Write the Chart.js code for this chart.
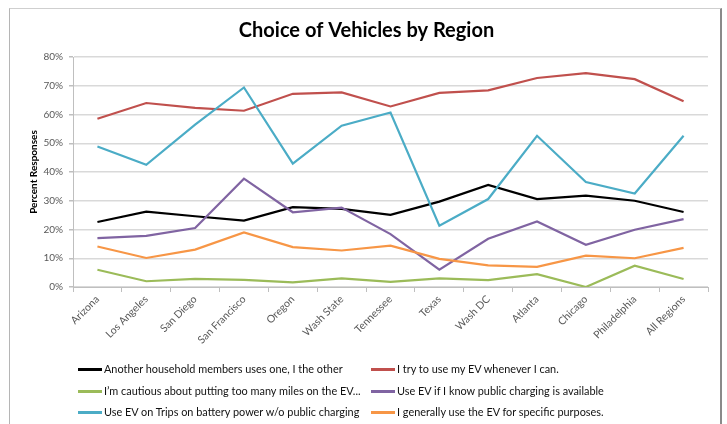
<!DOCTYPE html>
<html>
<head>
<meta charset="utf-8">
<script src="https://cdn.jsdelivr.net/npm/chart.js@4/dist/chart.umd.min.js"></script>
<style>
  html, body { margin: 0; padding: 0; background: #ffffff; }
  body { width: 727px; height: 424px; position: relative; overflow: hidden; font-family: Lato, "Open Sans", sans-serif; }
  #chart { position: absolute; left: 0; top: 0; }
  #frame {
    position: absolute; left: 9px; top: 8px; width: 710px; height: 440px;
    border-top: 1px solid #cfcfcf; border-left: 1px solid #b5b5b5; border-right: 2px solid #8a8a8a;
    pointer-events: none;
  }
  .key { position: absolute; height: 14px; font-size: 10.9px; line-height: 14px; color: #111; white-space: nowrap; }
  .key i { position: absolute; left: 0; top: 6px; width: 24px; height: 2.5px; }
  .key span { position: absolute; left: 26px; top: 0; }
</style>
</head>
<body>
<canvas id="chart" width="727" height="424"></canvas>
<div id="legend"></div>
<div id="frame"></div>
<script>
// Survey regions shown along the category axis
const regions = ['Arizona', 'Los Angeles', 'San Diego', 'San Francisco', 'Oregon', 'Wash State',
  'Tennessee', 'Texas', 'Wash DC', 'Atlanta', 'Chicago', 'Philadelphia', 'All Regions'];

// Share of responses per region, in percent
const householdShare = [22.6, 26.2, 24.6, 23.1, 27.8, 27.2, 25.1, 29.7, 35.5, 30.6, 31.8, 30.0, 26.1];
const wheneverCan    = [58.5, 64.0, 62.3, 61.3, 67.2, 67.7, 62.8, 67.5, 68.4, 72.7, 74.4, 72.3, 64.6];
const cautiousMiles  = [6.0, 2.0, 2.8, 2.5, 1.6, 3.0, 1.8, 3.0, 2.4, 4.5, 0.0, 7.4, 2.8];
const publicCharging = [17.0, 17.8, 20.5, 37.7, 26.0, 27.6, 18.4, 6.0, 16.8, 22.8, 14.7, 19.9, 23.6];
const batteryTrips   = [48.9, 42.5, 56.5, 69.4, 42.9, 56.1, 60.7, 21.3, 30.6, 52.6, 36.5, 32.5, 52.6];
const specificUse    = [14.1, 10.1, 13.0, 19.0, 13.9, 12.7, 14.4, 9.8, 7.5, 7.0, 10.9, 10.0, 13.6];

const seriesNames = [
  'Another household members uses one, I the other',
  'I try to use my EV whenever I can.',
  'I\u2019m cautious about putting too many miles on the EV...',
  'Use EV if I know public charging is available',
  'Use EV on Trips on battery power w/o public charging',
  'I generally use the EV for specific purposes.'
];
const seriesValues = [householdShare, wheneverCan, cautiousMiles, publicCharging, batteryTrips, specificUse];
const seriesColors = ['#000000', '#C0504D', '#9BBB59', '#8064A2', '#4BACC6', '#F79646'];

const yTicks = [0, 10, 20, 30, 40, 50, 60, 70, 80];

const FONT = 'Lato, "Open Sans", sans-serif';

const datasets = seriesValues.map((vals, i) => ({
  label: seriesNames[i],
  data: vals,
  borderColor: seriesColors[i],
  backgroundColor: seriesColors[i],
  borderWidth: 2.2,
  pointRadius: 0,
  tension: 0,
  fill: false,
  order: seriesValues.length - i
}));

new Chart(document.getElementById('chart'), {
  type: 'line',
  data: { labels: regions, datasets },
  options: {
    responsive: false,
    animation: false,
    layout: { padding: { left: 25, right: 19, top: 13, bottom: 77 } },
    plugins: {
      legend: { display: false },
      tooltip: { enabled: false },
      title: {
        display: true,
        text: 'Choice of Vehicles by Region',
        color: '#000000',
        font: { family: FONT, size: 20, weight: 'bold' },
        padding: { top: 6, bottom: 14 }
      }
    },
    scales: {
      x: {
        type: 'category',
        offset: true,
        grid: { display: true, offset: true, drawOnChartArea: false, drawTicks: true, tickLength: 5, color: '#bfbfbf' },
        border: { display: true, color: '#bfbfbf', width: 1 },
        ticks: {
          autoSkip: false, minRotation: 45, maxRotation: 45, padding: 1,
          color: '#595959', font: { family: FONT, size: 10.5 }
        },
        afterFit: (scale) => { scale.height = 60; }
      },
      y: {
        min: yTicks[0], max: yTicks[yTicks.length - 1],
        afterBuildTicks: (scale) => { scale.ticks = yTicks.map(v => ({ value: v })); },
        grid: { color: '#d9d9d9', lineWidth: 1.5, tickLength: 4, tickColor: '#bfbfbf' },
        border: { display: true, color: '#bfbfbf', width: 1 },
        ticks: {
          padding: 6, color: '#595959', font: { family: FONT, size: 10 },
          callback: (v) => v + '%'
        },
        title: {
          display: true, text: 'Percent Responses', color: '#000000',
          font: { family: FONT, size: 10, weight: 'bold' }, padding: { top: 3, bottom: 0 }
        },
        afterFit: (scale) => { scale.width = 48; }
      }
    }
  }
});

// Two-column key under the plot
const legendBox = document.getElementById('legend');
const colX = [78, 371];
const rowY = [362, 384, 405];
seriesNames.forEach((name, i) => {
  const el = document.createElement('div');
  el.className = 'key';
  el.style.left = colX[i % 2] + 'px';
  el.style.top = rowY[Math.floor(i / 2)] + 'px';
  el.innerHTML = '<i style="background:' + seriesColors[i] + '"></i><span></span>';
  el.querySelector('span').textContent = name;
  legendBox.appendChild(el);
});
</script>
</body>
</html>
